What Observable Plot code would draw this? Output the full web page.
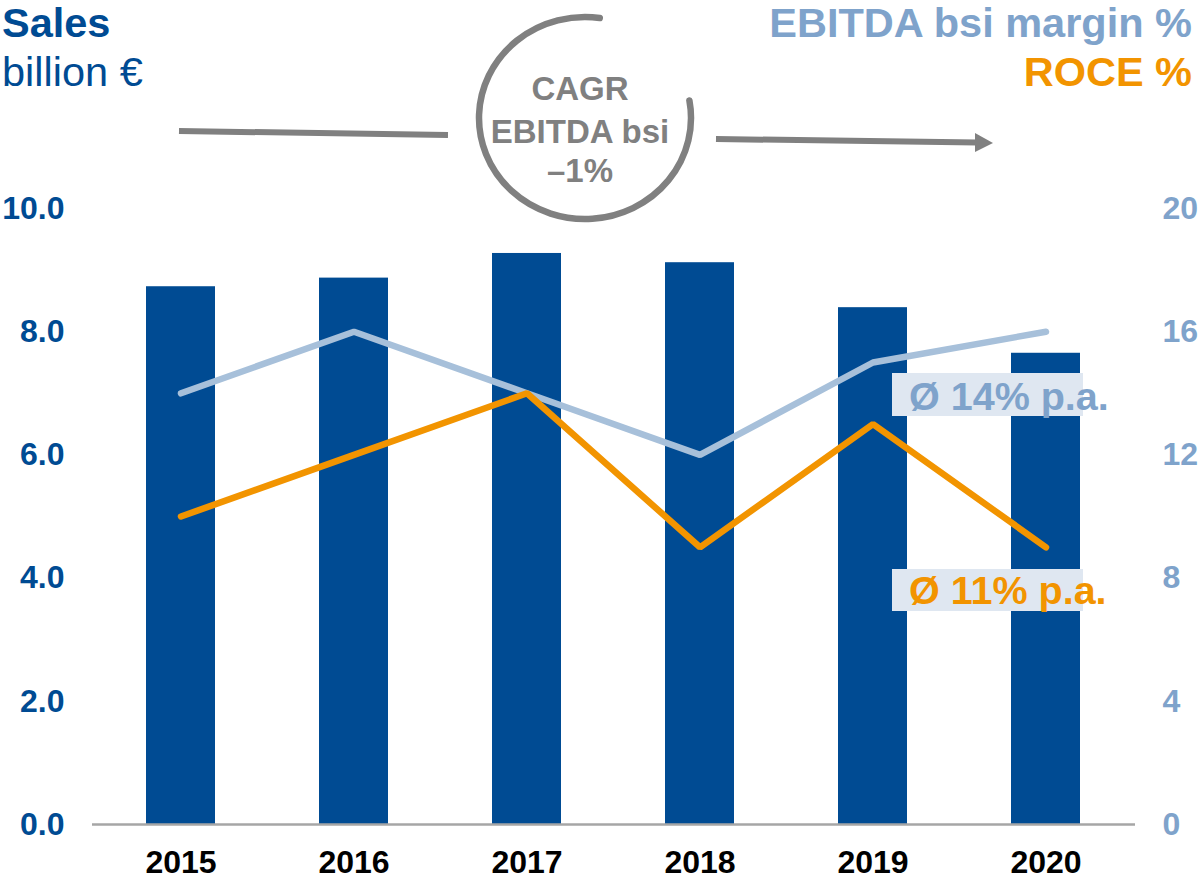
<!DOCTYPE html>
<html>
<head>
<meta charset="utf-8">
<script src="https://cdn.jsdelivr.net/npm/d3@7"></script>
<script src="https://cdn.jsdelivr.net/npm/@observablehq/plot@0.6"></script>
<style>
  html, body { margin: 0; padding: 0; background: #fff; }
  #wrap { position: relative; width: 1204px; height: 879px; overflow: hidden; }
  #wrap svg { display: block; }
  #overlay { position: absolute; left: 0; top: 0; pointer-events: none; }
</style>
</head>
<body>
<div id="wrap"></div>
<script>
// ---- data ----
const years = ["2015", "2016", "2017", "2018", "2019", "2020"];
const sales = [8.73, 8.87, 9.27, 9.12, 8.39, 7.65];          // billion €
const ebitdaMargin = [14, 16, 14, 12, 15, 16];                // %
const roce = [10, 12, 14, 9, 13, 9];                          // %
const leftTicks = [0, 2, 4, 6, 8, 10];
const rightTicks = [0, 4, 8, 12, 16, 20];
const avgLabels = ["Ø 14% p.a.", "Ø 11% p.a."];
const cagrLines = ["CAGR", "EBITDA bsi", "–1%"];

const navy = "#004b93", lightBlue = "#a7c0da", labelBlue = "#7fa3cb", orange = "#f29400", grey = "#808080";
const font = "'Liberation Sans', Arial, Helvetica, sans-serif";

const barData = years.map((y, i) => ({year: y, value: sales[i]}));
const marginData = years.map((y, i) => ({year: y, value: ebitdaMargin[i]}));
const roceData = years.map((y, i) => ({year: y, value: roce[i]}));
const ratio = 2; // right axis (0–20 %) vs left axis (0–10 bn €)

const chart = Plot.plot({
  width: 1204,
  height: 879,
  marginLeft: 92,
  marginRight: 69,
  marginTop: 208,
  marginBottom: 55,
  style: {fontFamily: font, background: "transparent", overflow: "visible"},
  x: {type: "band", domain: years, paddingInner: 0.6, paddingOuter: 0.3, label: null},
  y: {domain: [0, 10], label: null},
  marks: [
    Plot.barY(barData, {x: "year", y: "value", fill: navy}),
    Plot.ruleY([0], {stroke: "#a6a6a6", strokeWidth: 2.5}),
    Plot.line(marginData, {x: "year", y: d => d.value / ratio, stroke: lightBlue, strokeWidth: 6.5, strokeLinecap: "round", strokeLinejoin: "miter"}),
    Plot.line(roceData, {x: "year", y: d => d.value / ratio, stroke: orange, strokeWidth: 6.5, strokeLinecap: "round", strokeLinejoin: "miter"}),
    Plot.axisY({anchor: "left", ticks: leftTicks, tickSize: 0, tickPadding: 28, tickFormat: d3.format(".1f"),
      fill: navy, fontSize: 32, fontWeight: "bold", label: null}),
    Plot.axisY({anchor: "right", ticks: rightTicks.map(t => t / ratio), tickSize: 0, tickPadding: 27,
      tickFormat: d => String(d * ratio), fill: labelBlue, fontSize: 32, fontWeight: "bold", label: null}),
    Plot.axisX({anchor: "bottom", tickSize: 0, tickPadding: 26, fill: "#000", fontSize: 32, fontWeight: "bold", label: null})
  ]
});
document.getElementById("wrap").appendChild(chart);

// ---- annotations overlay ----
const ov = d3.select("#wrap").append("svg")
  .attr("id", "overlay").attr("width", 1204).attr("height", 879)
  .style("font-family", font);

// headers
ov.append("text").attr("x", 2).attr("y", 37).attr("font-size", 41.5).attr("font-weight", "bold").attr("fill", navy).text("Sales");
ov.append("text").attr("x", 2).attr("y", 86).attr("font-size", 41.5).attr("fill", navy).text("billion €");
ov.append("text").attr("x", 1192).attr("y", 37).attr("text-anchor", "end").attr("font-size", 41.5).attr("font-weight", "bold").attr("fill", labelBlue).text("EBITDA bsi margin %");
ov.append("text").attr("x", 1192).attr("y", 86).attr("text-anchor", "end").attr("font-size", 41.5).attr("font-weight", "bold").attr("fill", orange).text("ROCE %");

// CAGR arrows and arc
ov.append("line").attr("x1", 179).attr("y1", 131).attr("x2", 448).attr("y2", 135).attr("stroke", grey).attr("stroke-width", 6);
ov.append("line").attr("x1", 716).attr("y1", 139).attr("x2", 977).attr("y2", 142.5).attr("stroke", grey).attr("stroke-width", 6);
ov.append("path").attr("d", "M975,133 L993,143 L975,152 Z").attr("fill", grey);
{
  const cx = 585, cy = 118, rx = 106, ry = 101;
  const a0 = -10 * Math.PI / 180, a1 = -82 * Math.PI / 180;
  const sx = cx + rx * Math.cos(a0), sy = cy + ry * Math.sin(a0);
  const ex = cx + rx * Math.cos(a1), ey = cy + ry * Math.sin(a1);
  ov.append("path").attr("d", `M${sx},${sy} A${rx},${ry} 0 1 1 ${ex},${ey}`)
    .attr("fill", "none").attr("stroke", grey).attr("stroke-width", 6.5).attr("stroke-linecap", "round");
}
const cagrY = [100, 143, 182];
cagrLines.forEach((t, i) => {
  ov.append("text").attr("x", 580).attr("y", cagrY[i]).attr("text-anchor", "middle")
    .attr("font-size", 33).attr("font-weight", "bold").attr("fill", grey).text(t);
});

// average labels with boxes
const boxes = [{y: 373, h: 43, base: 410, color: labelBlue}, {y: 569, h: 42, base: 604, color: orange}];
boxes.forEach((b, i) => {
  ov.append("rect").attr("x", 892).attr("y", b.y).attr("width", 191).attr("height", b.h).attr("fill", "#dfe7f1");
  ov.append("text").attr("x", 909).attr("y", b.base).attr("font-size", 39.5).attr("font-weight", "bold").attr("fill", b.color).text(avgLabels[i]);
});
</script>
</body>
</html>
